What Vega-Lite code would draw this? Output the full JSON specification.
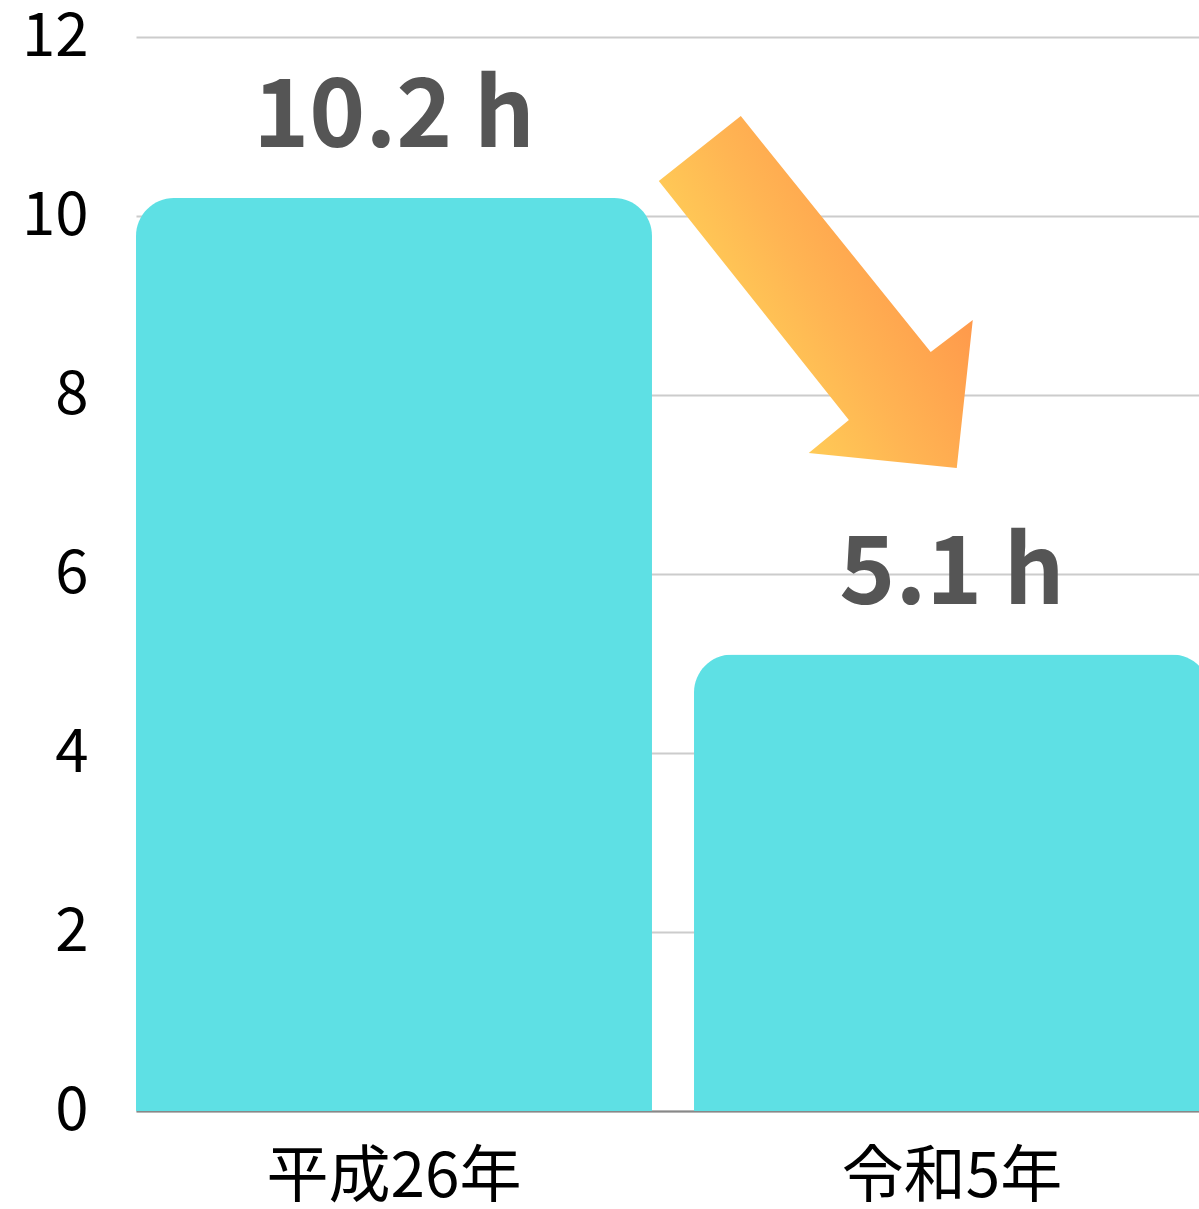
{
  "$schema": "https://vega.github.io/schema/vega-lite/v6.json",
  "autosize": "none",
  "width": 1063,
  "height": 1074,
  "padding": {"left": 136, "top": 37, "right": 0, "bottom": 98},
  "background": "white",
  "config": {
    "view": {"stroke": null},
    "font": "Noto Sans CJK JP"
  },
  "data": {
    "values": [
      {"year": "平成26年", "hours": 10.2, "label": "10.2 h"},
      {"year": "令和5年", "hours": 5.1, "label": "5.1 h"}
    ]
  },
  "encoding": {
    "x": {
      "field": "year",
      "type": "nominal",
      "sort": null,
      "scale": {"range": [0, 1074], "paddingInner": 0.0753, "paddingOuter": 0},
      "axis": {
        "title": null,
        "labelAngle": 0,
        "labelFontSize": 62,
        "labelColor": "#000000",
        "labelPadding": 36,
        "labelLimit": 0,
        "ticks": false,
        "domainColor": "#888888",
        "domainWidth": 2,
        "labelFont": "Noto Sans CJK JP"
      }
    }
  },
  "layer": [
    {
      "mark": {
        "type": "bar",
        "color": "#5EE0E4",
        "cornerRadiusTopLeft": 38,
        "cornerRadiusTopRight": 38
      },
      "encoding": {
        "y": {
          "field": "hours",
          "type": "quantitative",
          "scale": {"domain": [0, 12], "nice": false},
          "axis": {
            "title": null,
            "values": [0, 2, 4, 6, 8, 10, 12],
            "format": "d",
            "labelFontSize": 60,
            "labelColor": "#000000",
            "labelPadding": 48,
            "ticks": false,
            "domain": false,
            "gridColor": "#cccccc",
            "gridWidth": 2,
            "labelFont": "Noto Sans CJK JP"
          }
        }
      }
    },
    {
      "mark": {
        "type": "text",
        "fontSize": 95,
        "fontWeight": "bold",
        "color": "#555555",
        "baseline": "alphabetic",
        "align": "center",
        "dy": -51
      },
      "encoding": {
        "y": {"field": "hours", "type": "quantitative"},
        "text": {"field": "label"}
      }
    },
    {
      "data": {"values": [{"year": "令和5年", "level": 9.15}]},
      "mark": {
        "type": "point",
        "filled": true,
        "opacity": 1,
        "strokeWidth": 0,
        "shape": "M-0.892,-0.631 L-0.426,-1 L0.653,0.341 L0.892,0.159 L0.801,1 L-0.04,0.915 L0.188,0.727 Z",
        "size": 123904,
        "fill": {
          "gradient": "linear",
          "x1": 0.1, "y1": 0.9, "x2": 1, "y2": 0.3,
          "stops": [
            {"offset": 0, "color": "#FFE25A"},
            {"offset": 0.5, "color": "#FFB553"},
            {"offset": 1, "color": "#FF8E48"}
          ]
        }
      },
      "encoding": {
        "x": {"field": "year", "type": "nominal", "bandPosition": 0.236},
        "y": {"field": "level", "type": "quantitative"}
      }
    }
  ]
}
